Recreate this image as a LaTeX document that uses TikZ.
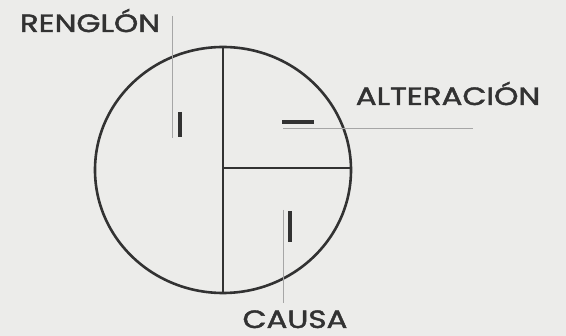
\documentclass[tikz,border=0pt]{standalone}
\usepackage{fontspec}
\setmainfont{Poppins}
\newfontfamily\tagfont{Poppins}[FakeBold=1.6]
\usetikzlibrary{positioning}
\definecolor{paper}{RGB}{236,236,234}
\definecolor{ink}{RGB}{50,50,50}
\tikzset{
  rim/.style={draw=ink, line width=2.6pt},
  leader/.style={draw=gray!70, line width=0.9pt},
  tick/.style={draw=ink, line width=3.6pt},
  tag/.style={text=ink, inner sep=0pt, anchor=base, text depth=0pt,
    xscale=1.24, font=\fontsize{25}{25}\tagfont}
}

\begin{document}
\begin{tikzpicture}[x=1pt, y=-1pt]
  % Background
  \fill[paper] (0,0) rectangle (566,336);
  \useasboundingbox (0,0) rectangle (566,336);

  % Circle with its quarters
  \draw[rim] (223,170) ellipse [x radius=128, y radius=123];
  \draw[rim] (223,47) -- (223,293);
  \draw[rim] (223,168) -- (351,168);

  % Marks in each part
  \draw[tick] (180,112) -- (180,137);
  \draw[tick] (282,122) -- (314,122);
  \draw[tick] (290,211) -- (290,242);

  % Labels
  \node[tag] (renglon) at (90,32) {RENGLÓN};
  \node[tag] (alteracion) at (448,105) {ALTERACIÓN};
  \node[tag] (causa) at (295,328) {CAUSA};

  % Leader lines
  \coordinate (rTop) at (172,16);
  \coordinate (rEnd) at (172,138);
  \coordinate (aStart) at (283,128);
  \coordinate (aEnd) at (473,128);
  \coordinate (cTop) at (283,210);
  \coordinate (cEnd) at (283,303);
  \draw[leader] (rTop) -- (rEnd);
  \draw[leader] (aStart) -- (aEnd);
  \draw[leader] (cTop) -- (cEnd);
\end{tikzpicture}
\end{document}
